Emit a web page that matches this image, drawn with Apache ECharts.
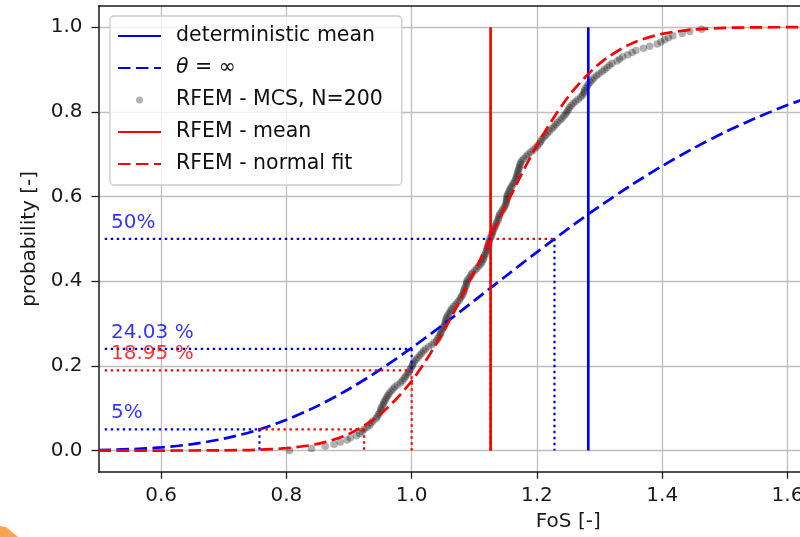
<!DOCTYPE html>
<html><head><meta charset="utf-8">
<script src="https://cdn.jsdelivr.net/npm/echarts@6/dist/echarts.min.js"></script>
<style>html,body{margin:0;padding:0;background:#fff}#c{width:800px;height:537px}</style>
</head><body><div id="c"></div>
<script>
// ---- data ----
const fosGrid = [0.50,0.55,0.60,0.65,0.70,0.75,0.80,0.85,0.90,0.95,1.00,1.05,1.10,1.15,1.20,1.25,1.30,1.35,1.40,1.45,1.50,1.55,1.60,1.65];
const thetaInfCdf = [0.0011,0.0032,0.0074,0.0153,0.0280,0.0468,0.0726,0.1055,0.1453,0.1914,0.2425,0.2972,0.3541,0.4117,0.4687,0.5240,0.5768,0.6263,0.6721,0.7140,0.7519,0.7858,0.8159,0.8424];
const normalFitCdf = [0,0,0,0.0001,0.0005,0.0017,0.0056,0.0158,0.0394,0.0858,0.1643,0.2790,0.4226,0.5774,0.7210,0.8357,0.9142,0.9606,0.9842,0.9944,0.9983,0.9995,0.9999,1.0];
const mcsFos = [
0.805,0.840,0.862,0.876,0.886,0.897,0.902,0.912,0.917,0.921,
0.924,0.929,0.933,0.935,0.938,0.943,0.945,0.947,0.949,0.951,
0.951,0.953,0.955,0.956,0.958,0.960,0.962,0.964,0.967,0.970,
0.973,0.977,0.982,0.985,0.988,0.990,0.993,0.995,0.997,0.999,
1.001,1.002,1.004,1.007,1.010,1.013,1.016,1.019,1.022,1.027,
1.032,1.036,1.040,1.042,1.044,1.046,1.047,1.048,1.050,1.052,
1.053,1.054,1.055,1.056,1.058,1.060,1.062,1.064,1.067,1.070,
1.073,1.076,1.078,1.080,1.082,1.083,1.084,1.085,1.087,1.088,
1.088,1.090,1.093,1.095,1.097,1.101,1.104,1.107,1.110,1.112,
1.114,1.115,1.116,1.118,1.119,1.120,1.121,1.122,1.123,1.124,
1.125,1.127,1.128,1.129,1.130,1.132,1.133,1.135,1.136,1.138,
1.139,1.140,1.141,1.144,1.146,1.148,1.150,1.151,1.151,1.152,
1.152,1.153,1.155,1.156,1.158,1.160,1.162,1.164,1.166,1.167,
1.168,1.169,1.170,1.171,1.172,1.173,1.174,1.176,1.179,1.183,
1.186,1.190,1.194,1.198,1.201,1.204,1.206,1.208,1.211,1.214,
1.217,1.220,1.224,1.227,1.230,1.233,1.237,1.240,1.243,1.246,
1.248,1.250,1.252,1.255,1.258,1.262,1.266,1.270,1.273,1.275,
1.276,1.277,1.280,1.282,1.285,1.288,1.291,1.295,1.299,1.304,
1.308,1.312,1.316,1.320,1.328,1.332,1.337,1.345,1.352,1.358,
1.370,1.380,1.392,1.398,1.404,1.410,1.417,1.432,1.444,1.463];
const deterministicMean = 1.282;
const rfemMean = 1.126;
const meanLineRange = [0, 1];
const xTicks = [0.6,0.8,1.0,1.2,1.4,1.6];
const yTicks = [0,0.2,0.4,0.6,0.8,1.0];
const blueGuides = [
  [[0.51,0.5],[1.126,0.5]],
  [[1.228,0.5],[1.228,0]],
  [[0.51,0.2403],[1.0,0.2403]],
  [[1.0,0.2403],[1.0,0.1895]],
  [[0.51,0.05],[0.757,0.05]],
  [[0.757,0.05],[0.757,0]]
];
const redGuides = [
  [[1.126,0.5],[1.228,0.5]],
  [[1.126,0],[1.126,0.5]],
  [[0.51,0.1895],[1.0,0.1895]],
  [[1.0,0.1895],[1.0,0]],
  [[0.757,0.05],[0.924,0.05]],
  [[0.924,0.05],[0.924,0]]
];
const annotText = ['50%','24.03 %','18.95 %','5%'];
const annotPos = [[0.52,0.52],[0.52,0.26],[0.52,0.21],[0.52,0.07]];
const annotColor = ['rgba(0,0,255,0.8)','rgba(0,0,255,0.8)','rgba(255,0,0,0.8)','rgba(0,0,255,0.8)'];

// ---- chart ----
const FONT = 'DejaVu Sans';
const chart = echarts.init(document.getElementById('c'), null, {renderer:'canvas'});
function lineSeries(name, data, color, type, width, dash){
  return {type:'line', name:name, data:data, symbol:'none', showSymbol:false, smooth:false,
    lineStyle:{color:color, width:width, type: dash || type}, itemStyle:{color:color, opacity:0},
    silent:true, animation:false, clip:true};
}
const DASH = [12.5,5.5];
const DOT = [2.4,3.6];
const series = [];
series.push(lineSeries('deterministic mean', [[deterministicMean,meanLineRange[0]],[deterministicMean,meanLineRange[1]]], '#0000ff', 'solid', 2.7));
const blueCurve = lineSeries('θ = ∞', fosGrid.map((x,i)=>[x,thetaInfCdf[i]]), '#0000ff', 'dashed', 2.7, DASH);
blueCurve.smooth = 0.3;
series.push(blueCurve);
series.push({type:'scatter', name:'RFEM - MCS, N=200', data: mcsFos.map((x,i)=>[x, i/mcsFos.length]),
  symbol:'circle', symbolSize:7.5, itemStyle:{color:'rgba(0,0,0,0.38)'}, silent:true, animation:false});
series.push(lineSeries('RFEM - mean', [[rfemMean,meanLineRange[0]],[rfemMean,meanLineRange[1]]], '#ff0000', 'solid', 2.7));
const redCurve = lineSeries('RFEM - normal fit', fosGrid.map((x,i)=>[x,normalFitCdf[i]]), '#ff0000', 'dashed', 2.7, DASH);
redCurve.smooth = 0.3;
series.push(redCurve);
redGuides.forEach(seg=>series.push(lineSeries('', seg, '#ff0000', 'dotted', 2.2, DOT)));
blueGuides.forEach(seg=>series.push(lineSeries('', seg, '#0000ff', 'dotted', 2.2, DOT)));

const axisText = {fontSize:20, color:'#1a1a1a', fontFamily:FONT};
chart.setOption({
  animation:false,
  backgroundColor:'#fff',
  grid:{left:98.5, top:6, bottom:65.3, right:0, show:false, containLabel:false, outerBoundsMode:'none'},
  xAxis:[{type:'value', min:0.5, max:1.62,
    axisLine:{show:true, onZero:false, lineStyle:{color:'#1a1a1a', width:1.5}},
    axisTick:{show:true, customValues:xTicks, length:7, lineStyle:{color:'#1a1a1a', width:1.3}},
    axisLabel:Object.assign({customValues:xTicks, margin:13.6, formatter:v=>Number(v).toFixed(1)}, axisText),
    splitLine:{show:true, lineStyle:{color:'#bfbfbf', width:1.3}},
    name:'FoS [-]', nameLocation:'middle', nameGap:40.5,
    nameTextStyle:Object.assign({padding:[0,0,0,238]}, axisText)},
   {type:'value', position:'top', min:0.5, max:1.62,
    axisLine:{show:true, onZero:false, lineStyle:{color:'#1a1a1a', width:1.5}},
    axisTick:{show:false}, axisLabel:{show:false}, splitLine:{show:false}}],
  yAxis:{type:'value', min:-0.05, max:1.05,
    axisLine:{show:true, onZero:false, lineStyle:{color:'#1a1a1a', width:1.5}},
    axisTick:{show:true, customValues:yTicks, length:7, lineStyle:{color:'#1a1a1a', width:1.3}},
    axisLabel:Object.assign({customValues:yTicks, margin:16, formatter:v=>Number(v).toFixed(1)}, axisText),
    splitLine:{show:true, lineStyle:{color:'#bfbfbf', width:1.3}},
    name:'probability [-]', nameLocation:'middle', nameGap:57.5, nameTextStyle:axisText},
  legend:{orient:'vertical', left:110, top:16, padding:[9,19,10,7], itemGap:10, itemWidth:43, itemHeight:7,
    backgroundColor:'rgba(255,255,255,0.8)', borderColor:'#cccccc', borderWidth:1.3, borderRadius:4,
    data:['deterministic mean','θ = ∞','RFEM - MCS, N=200','RFEM - mean','RFEM - normal fit'],
    formatter:function(n){ return n === 'θ = ∞' ? '{i|θ} = ∞' : n; },
    textStyle:{fontSize:20.5, fontFamily:FONT, color:'#111', lineHeight:22, padding:[0,0,0,10],
      rich:{i:{fontStyle:'italic', fontSize:20.5, fontFamily:FONT, color:'#111', lineHeight:22}}},
    selectedMode:false},
  series:series
});

const annot = annotText.map((t,i)=>{
  const p = chart.convertToPixel({gridIndex:0}, annotPos[i]);
  return {type:'text', x:p[0], y:p[1]+2, z:100,
    style:{text:t, fill:annotColor[i], font:'20px "DejaVu Sans"', align:'left', verticalAlign:'bottom'}};
});
annot.push({type:'polygon', z:100, shape:{points:[[0,526],[6,527],[18,537],[0,537]]}, style:{fill:'#f6a54a'}});
chart.setOption({graphic:annot});
</script></body></html>
